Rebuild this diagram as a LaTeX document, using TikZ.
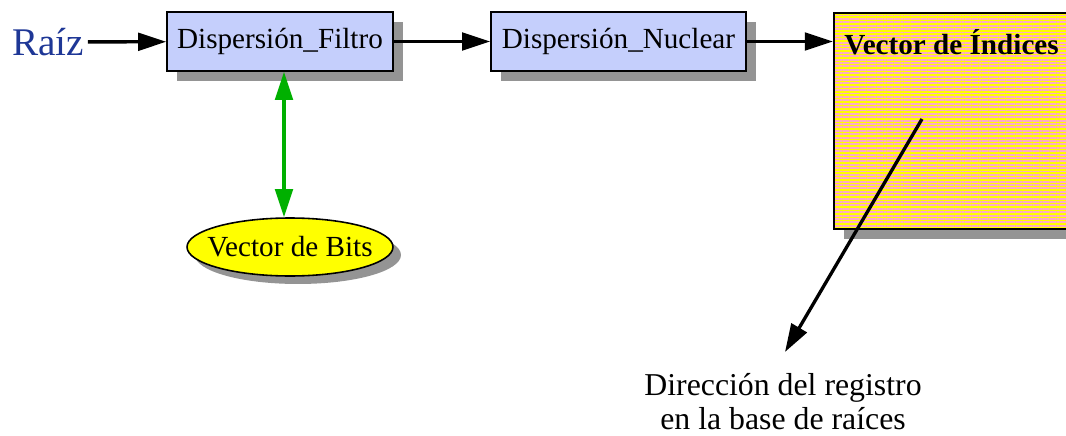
\documentclass[tikz,border=0pt]{standalone}
\usepackage{fontspec}
\setmainfont{Liberation Serif}
\usetikzlibrary{arrows.meta}
\usetikzlibrary{shapes.geometric}
\usetikzlibrary{shadows}
\usetikzlibrary{patterns.meta}

\definecolor{boxBlue}{RGB}{197,207,252}
\definecolor{shadowGrey}{RGB}{148,148,148}
\definecolor{stripePink}{RGB}{255,170,200}
\definecolor{stripeYellow}{RGB}{255,255,0}
\definecolor{rootBlue}{RGB}{30,55,150}
\definecolor{linkGreen}{RGB}{0,176,0}

\tikzset{
	flowbox/.style={draw=black, line width=0.9pt, fill=boxBlue, minimum height=1.18cm, inner sep=0pt,
		font=\fontsize{16.6}{20}\selectfont,
		drop shadow={shadow xshift=0.2cm, shadow yshift=-0.2cm, fill=shadowGrey, opacity=1}},
	indexbox/.style={draw=black, line width=0.9pt, minimum width=6cm, minimum height=4.32cm, inner sep=0pt,
		drop shadow={shadow xshift=0.2cm, shadow yshift=-0.2cm, fill=shadowGrey, opacity=1},
		preaction={fill=stripeYellow},
		pattern={Lines[angle=0, distance=1.93pt, line width=1.1pt]}, pattern color=stripePink},
	bitsnode/.style={ellipse, draw=black, line width=0.9pt, fill=stripeYellow, minimum width=4.12cm,
		minimum height=1.16cm, inner xsep=-0.23cm, inner ysep=0pt, font=\fontsize{16.6}{20}\selectfont,
		drop shadow={shadow xshift=0.16cm, shadow yshift=-0.16cm, fill=shadowGrey, opacity=1}},
	flowarrow/.style={line width=1.9pt, -{Triangle[length=16pt, width=10pt]}},
	linkarrow/.style={line width=1.9pt, draw=linkGreen, {Triangle[length=16pt, width=10pt]}-{Triangle[length=16pt, width=10pt]}},
}

\begin{document}
\begin{tikzpicture}[x=0.02cm, y=-0.02cm]

	%picture frame, one unit per pixel of the target
	\useasboundingbox (0,0) rectangle (1066,436);
	\clip (0,0) rectangle (1066,436);

	%chain of dispersion steps
	\node[text=rootBlue, font=\fontsize{22.3}{26}\selectfont, inner sep=2pt] (root) at (48,42) {Raíz};
	\node[flowbox, minimum width=4.52cm] (filtro) at (280,41.5) {Dispersión\_Filtro};
	\node[flowbox, minimum width=5.1cm] (nuclear) at (618.5,41.5) {Dispersión\_Nuclear};

	%striped index vector, runs past the right border
	\node[indexbox, anchor=north west] (indices) at (833,12) {};
	\node[font=\bfseries\fontsize{16.6}{20}\selectfont, anchor=west, inner sep=0pt] (indTitle) at (844,42) {Vector de Índices};

	%bit vector below the filter
	\node[bitsnode] (bits) at (290,247) {Vector de Bits};

	%connectors along the chain
	\draw[flowarrow] (root) -- (filtro);
	\draw[flowarrow] (filtro) -- (nuclear);
	\draw[flowarrow] (nuclear.east) -- (nuclear.east -| indices.west);

	%filter reads and writes the bits
	\draw[linkarrow] ([xshift=0.08cm]filtro.south) -- ([xshift=0.08cm]filtro.south |- bits.north);

	%pointer out of the index vector
	\coordinate (regStart) at (922,119);
	\coordinate (regTip) at (785,352);
	\draw[flowarrow] (regStart) -- (regTip);
	\node[align=center, font=\fontsize{18.1}{19.4}\selectfont] (regLabel) at (783,402) {Dirección del registro\\en la base de raíces};

\end{tikzpicture}
\end{document}
